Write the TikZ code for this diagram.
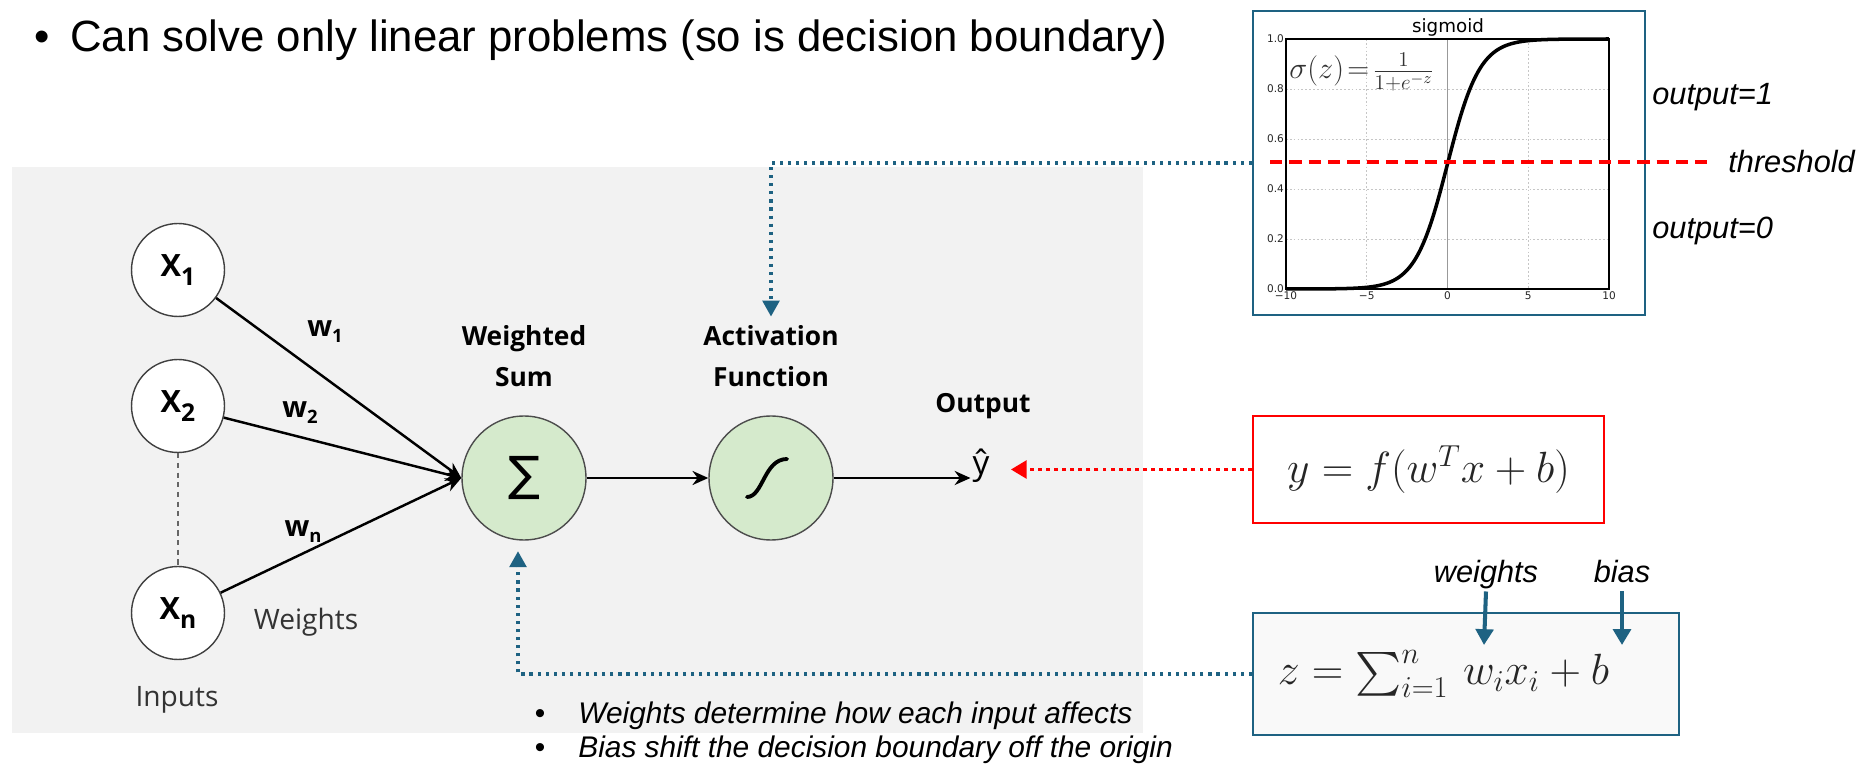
\documentclass[tikz,border=0pt]{standalone}
\usepackage{exscale}
\usepackage[no-math]{fontspec}
\setmainfont{Liberation Sans}
\newfontfamily\osans{Open Sans}
\newfontfamily\dvs{DejaVu Sans}
\usetikzlibrary{arrows.meta,calc}
\definecolor{panelgray}{HTML}{F2F2F2}
\definecolor{pblue}{RGB}{30,98,130}
\definecolor{sgreen}{RGB}{213,234,204}
\newcommand\xlab[1]{\osans\bfseries\fontsize{17.5}{20}\selectfont X\raisebox{-5pt}{\fontsize{14}{15}\selectfont #1}}
\newcommand\wlab[1]{\osans\bfseries\fontsize{16.5}{18}\selectfont w\raisebox{-3.5pt}{\fontsize{10.5}{11}\selectfont #1}}
\begin{document}
\begin{tikzpicture}[x=0.02cm,y=-0.02cm,
  incirc/.style={circle,draw=black!75,line width=0.8pt,fill=white,minimum size=1.86cm,inner sep=0pt},
  gcirc/.style={circle,draw=black!70,line width=0.8pt,fill=sgreen,minimum size=2.48cm,inner sep=0pt},
  wire/.style={line width=1.4pt,-{Stealth[length=9pt,width=8pt]}},
  bluedot/.style={draw=pblue,line width=1.8pt,dash pattern=on 1.8pt off 2.8pt,-{Triangle[length=9pt,width=9.5pt]}},
  reddot/.style={draw=red,line width=2.2pt,dash pattern=on 2.2pt off 2.4pt,-{Triangle[length=9pt,width=10pt]}},
  bluearrow/.style={draw=pblue,line width=2.3pt,-{Triangle[length=9pt,width=10pt]}},
  netlbl/.style={font=\osans\bfseries\fontsize{15}{23}\selectfont,align=center,inner sep=0pt},
  graylbl/.style={font=\osans\fontsize{16}{18}\selectfont,text=black!80},
  itlbl/.style={font=\itshape\fontsize{17.5}{20}\selectfont,inner sep=0pt},
  tick/.style={font=\dvs\fontsize{6}{6}\selectfont,inner sep=1pt,text=black!85},
  grid line/.style={gray!45,line width=0.5pt,dash pattern=on 1pt off 1.2pt}
]
\useasboundingbox (0,0) rectangle (1874,766);
\fill[white] (0,0) rectangle (1874,766);

% title
\node[anchor=base,inner sep=0,font=\fontsize{24.9}{28}\selectfont] (tbul) at (42,52) {•};
\node[anchor=base west,inner sep=0,font=\fontsize{24.9}{28}\selectfont] (title) at (70,52) {Can solve only linear problems (so is decision boundary)};

% gray panel
\fill[panelgray] (12,167) rectangle (1143,733);

% input nodes
\node[incirc] (x1) at (178,270) {\xlab{1}};
\node[incirc] (x2) at (178,406) {\xlab{2}};
\node[incirc] (xn) at (178,613) {\xlab{n}};
\draw[black!60,line width=0.6pt,dash pattern=on 3pt off 2.5pt] (x2) -- (xn);

% sum and activation
\node[gcirc] (sigma) at (524,478) {\dvs\fontsize{27}{27}\selectfont ∑};
\node[gcirc] (act) at (771,478) {};
\draw[line width=2.2pt,line cap=round] ($(act)+(-24,19)$) .. controls ($(act)+(-8,19)$) and ($(act)+(-7,-19)$) .. ($(act)+(16,-19)$);
\node[font=\osans\fontsize{19}{20}\selectfont,inner sep=1pt] (yhat) at (981,466) {\^{y}};

% labels
\node[netlbl] (wsumlbl) at (524,356) {Weighted\\Sum};
\node[netlbl] (actlbl) at (771,356) {Activation\\Function};
\node[netlbl,anchor=base] (outlbl) at (983,413) {Output};
\node (w1) at (325,332) {\wlab{1}};
\node (w2) at (300,413) {\wlab{2}};
\node (wn) at (303,532) {\wlab{n}};
\node[graylbl] (wts) at (306,622) {Weights};
\node[graylbl] (inp) at (177,700) {Inputs};

% wires
\draw[wire] (x1) -- (sigma.west);
\draw[wire] (x2) -- (sigma.west);
\draw[wire] (xn) -- (sigma.west);
\draw[wire] (sigma) -- (act);
\draw[wire] (act) -- (act -| yhat.west);

% sigmoid box
\node[draw=pblue,line width=1.3pt,fill=white,minimum width=7.84cm,minimum height=6.08cm,inner sep=0pt] (sigbox) at (1449,163) {};
\foreach \gx in {1366.75,1528.25} \draw[grid line] (\gx,39) -- (\gx,289);
\foreach \gy in {89,139,189,239} \draw[grid line] (1286,\gy) -- (1609,\gy);
\draw[gray!80,line width=0.6pt] (1447.5,39) -- (1447.5,289);
\draw[black,line width=0.8pt] (1286,39) rectangle (1609,289);
\draw[black,line width=2pt] plot[domain=-10:10,samples=121,smooth] ({1286+(\x+10)*16.15},{289-125*(1+tanh(\x/2))});
\foreach \v/\gy in {0.0/289,0.2/239,0.4/189,0.6/139,0.8/89,1.0/39} \node[tick,anchor=east] at (1286,\gy) {\v};
\foreach \v/\gx in {−10/1286,−5/1366.75,0/1447.5,5/1528.25,10/1609} \node[tick,anchor=north] at (\gx,290) {\v};
\node[font=\dvs\fontsize{10.4}{12}\selectfont,anchor=base,inner sep=0] (sigtitle) at (1448,33) {sigmoid};
\node[anchor=west,inner sep=0,text=black!80] (sigform) at (1289,72) {\fontsize{18}{20}\selectfont $\sigma(z)\!=\!\frac{1}{1+e^{-z}}$};
\draw[red,line width=2.8pt,dash pattern=on 7pt off 4pt] (1270,162) -- (1714,162);
\node[itlbl,anchor=base west] (out1) at (1652,105) {output=1};
\node[itlbl,anchor=base west] (thr) at (1728,173) {threshold};
\node[itlbl,anchor=base west] (out0) at (1652,239) {output=0};

% formula boxes
\node[draw=red,line width=1.3pt,fill=white,minimum width=7.02cm,minimum height=2.14cm,inner sep=0pt,text=black!85] (fbox) at (1428.5,469.5) {\fontsize{25}{30}\selectfont $y = f(w^Tx + b)$};
\node[draw=pblue,line width=1.3pt,fill=gray!5,minimum width=8.52cm,minimum height=2.44cm,inner sep=0pt,text=black!85] (zbox) at (1466,674) {\hspace*{-0.9cm}\fontsize{25}{30}\selectfont $z = \sum_{i=1}^{n}\, w_i x_i + b$};
\node[itlbl,anchor=base,inner sep=1pt] (wlbl) at (1486,583) {weights};
\node[itlbl,anchor=base,inner sep=1pt] (blbl) at (1622,583) {bias\vphantom{g}};
\coordinate (wtip) at (1484,645);
\coordinate (btip) at (1622,645);
\draw[bluearrow] (wlbl.south) -- (wtip);
\draw[bluearrow] (blbl.south) -- (btip);

% dotted connectors
\draw[bluedot,shorten >=5pt] (sigbox.west) -| (actlbl.north);
\draw[bluedot,shorten >=6pt] (zbox.west) -| ([xshift=-0.12cm]sigma.south);
\draw[reddot,shorten >=11pt] (fbox.west) -- (fbox.west -| yhat.east);

% bottom notes
\node[anchor=base,inner sep=0,font=\fontsize{17}{20}\selectfont] (b1) at (540,724) {•};
\node[anchor=base,inner sep=0,font=\fontsize{17}{20}\selectfont] (b2) at (540,758) {•};
\node[anchor=base west,inner sep=0,font=\itshape\fontsize{17}{20}\selectfont] (n1) at (578,724) {Weights determine how each input affects};
\node[anchor=base west,inner sep=0,font=\itshape\fontsize{17}{20}\selectfont] (n2) at (578,758) {Bias shift the decision boundary off the origin};
\end{tikzpicture}
\end{document}
